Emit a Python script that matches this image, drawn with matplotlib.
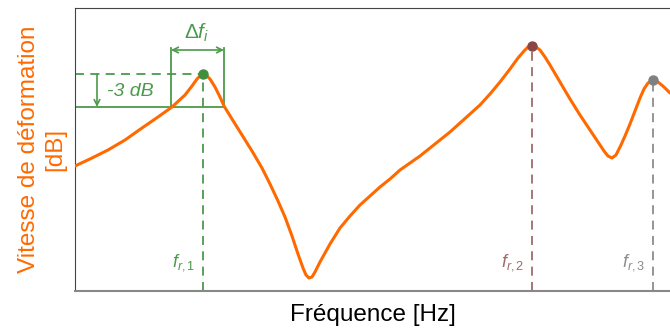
import matplotlib
matplotlib.use("Agg")
import matplotlib.pyplot as plt

# curve readings (x = frequency position, y = level), arbitrary units
freq = [0, 17, 33, 50, 67, 83, 97, 110, 117, 122, 125, 128,
        131, 135, 140, 145, 149, 157, 167, 177, 187, 195, 203, 210, 217, 223,
        228, 231, 234, 237, 240,
        245, 255, 265, 275, 285, 295, 305, 315, 325, 335, 345, 355, 365, 375,
        385, 395, 405, 415, 425, 435, 443, 449, 453, 457,
        461, 465, 470, 475, 485, 495, 505, 515, 523, 529, 533, 537, 541,
        546, 550, 555, 560, 565, 569, 573, 578, 583, 589, 595]
level = [125, 133, 141, 151, 163, 174, 184, 196, 205, 212, 215, 217,
         216, 212, 204, 194, 185, 172, 156, 140, 123, 107, 90, 74, 55, 37,
         23, 16, 13, 14, 19,
         29, 47, 63, 75, 86, 95, 104, 112, 121, 128, 135, 143, 151, 159,
         168, 177, 186, 197, 209, 222, 233, 240, 244, 245,
         244, 241, 234, 226, 209, 192, 176, 161, 149, 140, 135, 133, 136,
         146, 155, 167, 180, 193, 202, 208, 211, 209, 204, 198]

# resonance peaks
peak_x = [128, 457, 578]
peak_y = [217, 245, 211]
peak_labels = [r"$f_{\mathit{r,1}}$", r"$f_{\mathit{r,2}}$", r"$f_{\mathit{r,3}}$"]
peak_marker_colors = ["#3f8f3f", "#8b4545", "#808080"]
peak_line_colors = ["#4c9a4c", "#a06a6a", "#8c8c8c"]

# -3 dB band around the first resonance
band_lo, band_hi = 96, 149
level_3db = 184

ORANGE = "#ff6a00"
GREEN = "#4c9a4c"

plt.rcParams["font.family"] = ["Liberation Sans", "DejaVu Sans"]
plt.rcParams["mathtext.fontset"] = "custom"
plt.rcParams["mathtext.rm"] = "Liberation Sans"
plt.rcParams["mathtext.it"] = "Liberation Sans:italic"

fig = plt.figure(figsize=(6.7, 3.29), dpi=100)
ax = fig.add_axes([75 / 670, 38 / 329, 1 - 75 / 670, 283 / 329])
ax.set_xlim(0, 595)
ax.set_ylim(0, 283)

ax.plot(freq, level, color=ORANGE, lw=2.2, solid_capstyle="round",
        solid_joinstyle="round", zorder=3)

dash = (0, (5, 3.5))
for x, y, lab, mc, lc in zip(peak_x, peak_y, peak_labels,
                             peak_marker_colors, peak_line_colors):
    ax.plot([x, x], [0, y], color=lc, lw=1.3, ls=dash, zorder=2)
    ax.plot(x, y, "o", color=mc, ms=6.5, zorder=4)
    ax.text(x - 8, 28, lab, color=lc, fontsize=13, ha="right", va="center")

# -3 dB construction
ax.plot([0, peak_x[0]], [peak_y[0]] * 2, color=GREEN, lw=1.3, ls=dash, zorder=2)
ax.plot([0, band_hi], [level_3db] * 2, color=GREEN, lw=1.3, zorder=2)
for bx in (band_lo, band_hi):
    ax.plot([bx, bx], [level_3db, 243], color=GREEN, lw=1.3, zorder=2)
ax.annotate("", xy=(band_lo, 241), xytext=(band_hi, 241),
            arrowprops=dict(arrowstyle="<->", color=GREEN, lw=1.2,
                            shrinkA=0, shrinkB=0))
ax.annotate("", xy=(22, level_3db), xytext=(22, peak_y[0]),
            arrowprops=dict(arrowstyle="->", color=GREEN, lw=1.2,
                            shrinkA=0, shrinkB=0))
ax.text(32, 199, "-3 dB", color=GREEN, fontsize=14, style="italic",
        ha="left", va="center")
ax.text(122, 258, r"$\Delta f_i$", color=GREEN, fontsize=15, ha="center",
        va="center")

ax.set_xticks([])
ax.set_yticks([])
ax.spines["right"].set_visible(False)
ax.spines["top"].set_color("#444444")
ax.spines["left"].set_color("#444444")
ax.spines["bottom"].set_color("#888888")
ax.spines["bottom"].set_linewidth(1.5)

ax.set_xlabel("Fréquence [Hz]", fontsize=17.5, labelpad=9)
ax.set_ylabel("Vitesse de déformation\n[dB]", fontsize=17.5, color=ORANGE,
              labelpad=6, linespacing=1.25)

fig.savefig("out.png", dpi=100)
